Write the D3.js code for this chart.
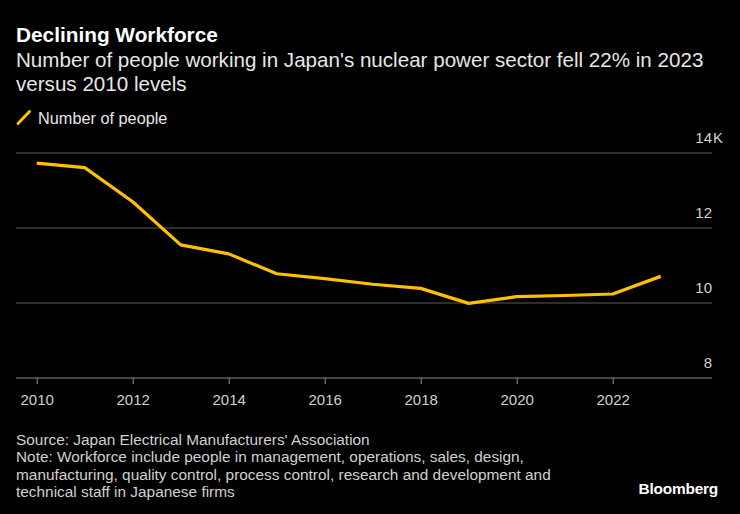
<!DOCTYPE html>
<html><head><meta charset="utf-8">
<script src="https://cdn.jsdelivr.net/npm/d3@7"></script>
<style>
html,body{margin:0;padding:0;background:#000;}
svg{display:block;font-family:"Liberation Sans",Arial,sans-serif;}
</style></head>
<body><svg id="c" width="740" height="514"></svg>
<script>
const years = [2010,2011,2012,2013,2014,2015,2016,2017,2018,2019,2020,2021,2022,2023];
const people = [13.73,13.61,12.70,11.55,11.31,10.78,10.65,10.50,10.39,9.99,10.17,10.20,10.24,10.71]; // thousands
const yTicks = [8,10,12,14];
const xTicks = [2010,2012,2014,2016,2018,2020,2022];
const title = "Declining Workforce";
const subtitle = ["Number of people working in Japan's nuclear power sector fell 22% in 2023","versus 2010 levels"];
const legendLabel = "Number of people";
const footer = ["Source: Japan Electrical Manufacturers' Association",
"Note: Workforce include people in management, operations, sales, design,",
"manufacturing, quality control, process control, research and development and",
"technical staff in Japanese firms"];

const svg = d3.select("#c");
const x = d3.scaleLinear().domain([2010,2023]).range([36.7,660.7]);
const y = d3.scaleLinear().domain([8,14]).range([378,153]);
const gridL = 16, gridR = 712;

svg.append("text").attr("x",16).attr("y",42).attr("fill","#fff")
  .attr("font-size",20.8).attr("font-weight","bold").text(title);
subtitle.forEach((t,i)=>svg.append("text").attr("x",16).attr("y",67+i*24)
  .attr("fill","#e6e6e6").attr("font-size",20.6).text(t));

// legend
svg.append("line").attr("x1",18).attr("y1",123.5).attr("x2",29.5).attr("y2",111.5)
  .attr("stroke","#ffc000").attr("stroke-width",3).attr("stroke-linecap","round");
svg.append("text").attr("x",38).attr("y",123.5).attr("fill","#e6e6e6").attr("font-size",16.3).text(legendLabel);

// y grid
const yg = svg.append("g");
yTicks.forEach(v=>{
  yg.append("line").attr("x1",gridL).attr("x2",gridR).attr("y1",y(v)).attr("y2",y(v))
    .attr("stroke", v===8 ? "#8a8a8a" : "#5a5a5a").attr("stroke-width",1);
  yg.append("text").attr("x",gridR).attr("y",y(v)-10).attr("text-anchor","end")
    .attr("fill","#d0d0d0").attr("font-size",15).text(v);
  if (v===14) yg.append("text").attr("x",gridR+1).attr("y",y(v)-10)
    .attr("fill","#d0d0d0").attr("font-size",15).text("K");
});

// x axis
const xAxis = d3.axisBottom(x).tickValues(xTicks).tickFormat(d3.format("d")).tickSize(6).tickPadding(10);
const xg = svg.append("g").attr("transform",`translate(0,${y(8)})`).call(xAxis);
xg.select(".domain").remove();
xg.selectAll("line").attr("stroke","#8a8a8a");
xg.selectAll("text").attr("fill","#d0d0d0").attr("font-size",15).attr("font-family","Liberation Sans, Arial, sans-serif");

// line
const line = d3.line().x((d,i)=>x(years[i])).y(d=>y(d));
svg.append("path").datum(people).attr("d",line).attr("fill","none")
  .attr("stroke","#ffc000").attr("stroke-width",3.2).attr("stroke-linejoin","round");

// footer
footer.forEach((t,i)=>svg.append("text").attr("x",16).attr("y",445+i*17.3)
  .attr("fill","#d0d0d0").attr("font-size",15.4).text(t));
svg.append("text").attr("x",718).attr("y",494).attr("text-anchor","end").attr("fill","#fff")
  .attr("font-size",15.4).attr("font-weight","bold").attr("letter-spacing",-0.2).text("Bloomberg");
</script></body></html>
